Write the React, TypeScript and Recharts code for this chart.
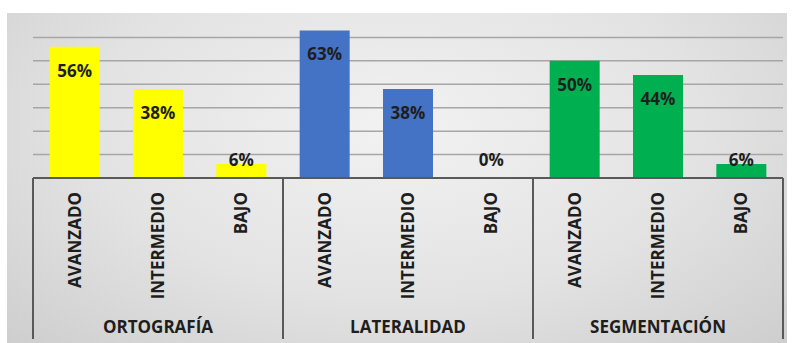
import { BarChart, Bar, XAxis, YAxis, CartesianGrid, Cell, LabelList } from 'recharts';

const groups = ['ORTOGRAFÍA', 'LATERALIDAD', 'SEGMENTACIÓN'];
const levels = ['AVANZADO', 'INTERMEDIO', 'BAJO'];
const ortografia = [56, 38, 6];
const lateralidad = [63, 38, 0];
const segmentacion = [50, 44, 6];
const groupColors = ['#ffff00', '#4472c4', '#00b050'];
const yTicks = [0, 10, 20, 30, 40, 50, 60];
const Y_MAX = 70;

const W = 794;
const H = 343;
const M = { top: 14, right: 11, left: 33, bottom: 0 };
const AXIS_H = 165;
const BAND = (W - M.left - M.right) / (groups.length * levels.length);
const FONT = '"Open Sans", sans-serif';
const INK = '#1e1e1e';
const AXIS = '#595959';

const data = [ortografia, lateralidad, segmentacion].flatMap((vals, g) =>
  vals.map((v, i) => ({
    key: `${g}-${i}`,
    group: groups[g],
    level: levels[i],
    value: v,
    color: groupColors[g],
  }))
);

function CategoryTick(props: any) {
  const { x, y, index } = props;
  const row = data[index];
  if (!row) return null;
  const pos = index % levels.length;
  return (
    <g>
      <text
        transform={`translate(${x + 6},${y + 14}) rotate(-90)`}
        textAnchor="end"
        fontFamily={FONT}
        fontWeight={700}
        fontSize={17}
        fill={INK}
      >
        {row.level}
      </text>
      {pos === 1 && (
        <text x={x} y={y + 155} textAnchor="middle" fontFamily={FONT} fontWeight={700} fontSize={17} fill={INK}>
          {row.group}
        </text>
      )}
      {pos === 0 && <line x1={x - BAND / 2} x2={x - BAND / 2} y1={y} y2={y + 161} stroke={AXIS} strokeWidth={2} />}
      {index === data.length - 1 && (
        <line x1={x + BAND / 2} x2={x + BAND / 2} y1={y} y2={y + 161} stroke={AXIS} strokeWidth={2} />
      )}
    </g>
  );
}

function ValueLabel(props: any) {
  const { x, y, width, height, value } = props;
  const bottom = y + height;
  const cy = Math.min(y + 23.5, bottom - 19);
  return (
    <text
      x={x + width / 2}
      y={cy}
      textAnchor="middle"
      dominantBaseline="central"
      fontFamily={FONT}
      fontWeight={700}
      fontSize={17}
      fill={INK}
    >
      {`${value}%`}
    </text>
  );
}

// grid rows only at the listed ticks (no line at the top of the value range)
const gridRows = ({ offset }: any) =>
  yTicks.slice(1).map((t) => offset.top + offset.height * (1 - t / Y_MAX));

export default function App() {
  return (
    <div style={{ position: 'absolute', left: 0, top: 0, width: W, height: H, background: '#fff' }}>
      <div
        style={{
          position: 'absolute',
          left: 7,
          top: 13,
          width: 780,
          height: H - 13,
          background: 'radial-gradient(ellipse at 50% 35%, #f2f2f2 0%, #e3e3e3 55%, #cecece 100%)',
        }}
      />
      <div style={{ position: 'absolute', left: 0, top: 0 }}>
        <BarChart width={W} height={H} data={data} margin={M} barCategoryGap="20%">
          <CartesianGrid
            vertical={false}
            stroke="#a6a6a6"
            strokeWidth={1.5}
            horizontalCoordinatesGenerator={gridRows}
          />
          <YAxis hide domain={[0, Y_MAX]} ticks={yTicks} />
          <Bar dataKey="value" minPointSize={1} isAnimationActive={false}>
            {data.map((d) => (
              <Cell key={d.key} fill={d.color} />
            ))}
            <LabelList dataKey="value" content={<ValueLabel />} />
          </Bar>
          <XAxis
            dataKey="key"
            height={AXIS_H}
            interval={0}
            tickLine={false}
            tickSize={0}
            tickMargin={0}
            axisLine={{ stroke: AXIS, strokeWidth: 2 }}
            tick={<CategoryTick />}
          />
        </BarChart>
      </div>
    </div>
  );
}
